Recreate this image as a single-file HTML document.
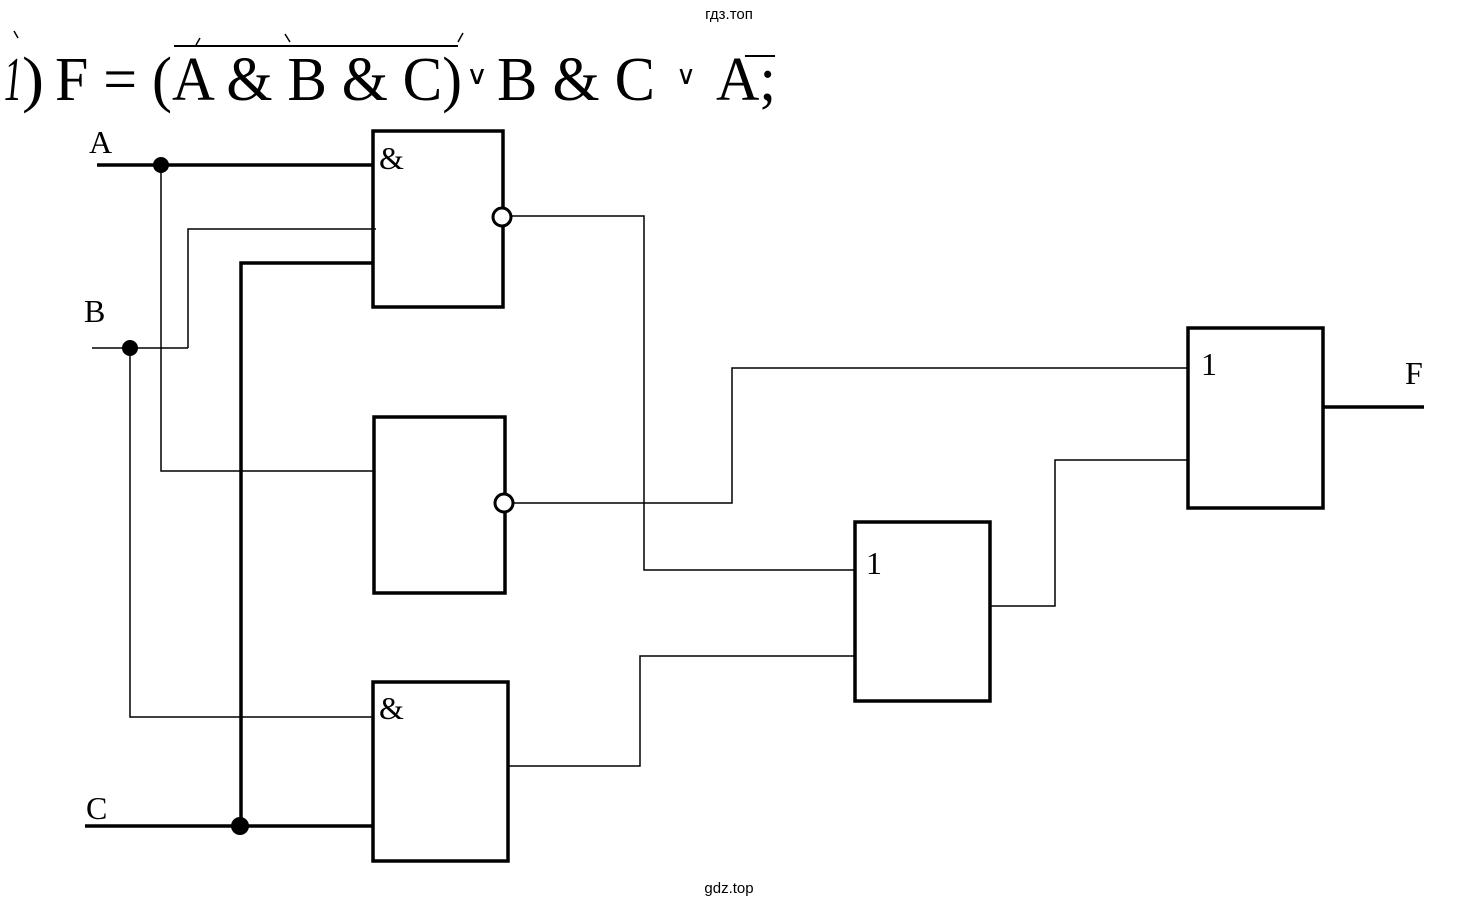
<!DOCTYPE html>
<html><head><style>
html,body{margin:0;padding:0;background:#fff;}
svg{display:block;}
</style></head><body>
<svg width="1459" height="908" viewBox="0 0 1459 908" xmlns="http://www.w3.org/2000/svg">
<g font-family="Liberation Sans, sans-serif" font-size="15" fill="#000" text-anchor="middle">
<text x="729" y="19">гдз.топ</text>
<text x="729" y="893">gdz.top</text>
</g>
<g font-family="Liberation Serif, serif" font-size="62" fill="#000" lengthAdjust="spacingAndGlyphs">
<text x="4" y="100" font-style="italic" textLength="18" lengthAdjust="spacingAndGlyphs">1</text>
<text x="22" y="100" textLength="22" lengthAdjust="spacingAndGlyphs">)</text>
<text x="55" y="100" textLength="117" lengthAdjust="spacingAndGlyphs">F = (</text>
<text x="172" y="100" textLength="290" lengthAdjust="spacingAndGlyphs">A &amp; B &amp; C)</text>
<text x="466" y="84" font-size="26" textLength="22" lengthAdjust="spacingAndGlyphs">∨</text>
<text x="497" y="100" textLength="158" lengthAdjust="spacingAndGlyphs">B &amp; C</text>
<text x="676" y="84" font-size="26" textLength="20" lengthAdjust="spacingAndGlyphs">∨</text>
<text x="716" y="100" textLength="60" lengthAdjust="spacingAndGlyphs">A;</text>
</g>
<g stroke="#000" fill="none" stroke-width="1.5">
<line x1="174" y1="46" x2="458" y2="46" stroke-width="2"/>
<line x1="745" y1="56" x2="775" y2="56" stroke-width="2"/>
<line x1="14" y1="31" x2="18" y2="38"/>
<line x1="200" y1="38" x2="196" y2="45"/>
<line x1="285" y1="34" x2="290" y2="42"/>
<line x1="463" y1="33" x2="458" y2="42"/>
</g>
<g font-family="Liberation Serif, serif" font-size="32" fill="#000">
<text x="89" y="153">A</text>
<text x="84" y="322">B</text>
<text x="86" y="819">C</text>
<text x="1405" y="384">F</text>
<text x="379" y="169">&amp;</text>
<text x="379" y="719">&amp;</text>
<text x="866" y="574">1</text>
<text x="1201" y="375">1</text>
</g>
<g stroke="#000" fill="none" stroke-width="3.5">
<rect x="373" y="131" width="130" height="176"/>
<rect x="374" y="417" width="131" height="176"/>
<rect x="373" y="682" width="135" height="179"/>
<rect x="855" y="522" width="135" height="179"/>
<rect x="1188" y="328" width="135" height="180"/>
<line x1="97" y1="165" x2="373" y2="165"/>
<polyline points="373,263 241,263 241,826"/>
<line x1="85" y1="826" x2="373" y2="826"/>
<line x1="1323" y1="407" x2="1424" y2="407"/>
</g>
<g stroke="#000" fill="none" stroke-width="1.5">
<line x1="92" y1="348" x2="188" y2="348"/>
<polyline points="188,348 188,229 376,229"/>
<polyline points="161,165 161,471 374,471"/>
<polyline points="130,348 130,717 373,717"/>
<polyline points="511,216 644,216 644,570 855,570"/>
<polyline points="513,503 732,503 732,368 1188,368"/>
<polyline points="508,766 640,766 640,656 855,656"/>
<polyline points="990,606 1055,606 1055,460 1188,460"/>
</g>
<g fill="#000">
<circle cx="161" cy="165" r="8"/>
<circle cx="130" cy="348" r="8"/>
<circle cx="240" cy="826" r="9"/>
</g>
<g stroke="#000" fill="#fff" stroke-width="3">
<circle cx="502" cy="217" r="9"/>
<circle cx="504" cy="503" r="9"/>
</g>
</svg>
</body></html>
